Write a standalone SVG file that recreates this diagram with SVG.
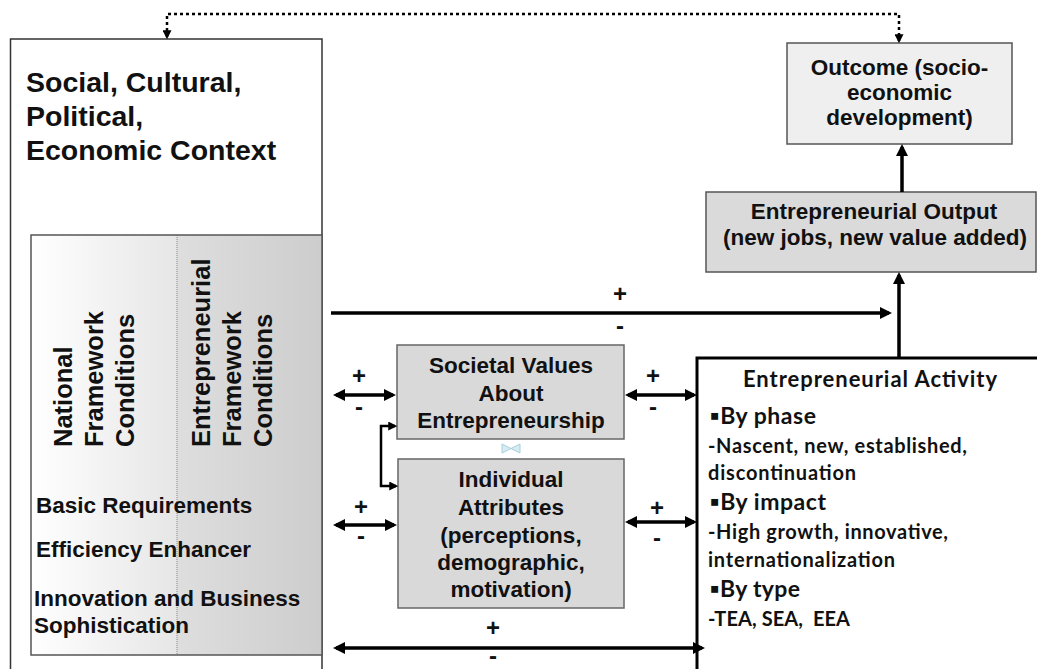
<svg xmlns="http://www.w3.org/2000/svg" width="1037" height="669" viewBox="0 0 1037 669">
<style>
.bx{font-family:"Liberation Sans",Arial,sans-serif;font-weight:bold;fill:#111;}
.ctr{text-anchor:middle;}
.pm{font-family:"Liberation Sans",Arial,sans-serif;font-weight:bold;font-size:24px;text-anchor:middle;fill:#111;}
.act{font-family:Lato,"Open Sans","DejaVu Sans",sans-serif;font-weight:bold;fill:#111;}
.ln{stroke:#000;stroke-width:3.5;fill:none;}
.thin{stroke:#000;stroke-width:2.5;fill:none;}
.dot{stroke:#000;stroke-width:2.5;fill:none;stroke-dasharray:3 3;}
</style>
<defs>
<marker id="ah" viewBox="0 0 12 12" markerWidth="12" markerHeight="12" refX="9" refY="6" orient="auto-start-reverse" markerUnits="userSpaceOnUse">
<path d="M0,0 L12,6 L0,12 z" fill="#000"/>
</marker>
<marker id="sh" viewBox="0 0 8 8" markerWidth="9" markerHeight="9" refX="6" refY="4" orient="auto-start-reverse" markerUnits="userSpaceOnUse">
<path d="M0,0 L8,4 L0,8 z" fill="#000"/>
</marker>
<linearGradient id="gl" x1="0" y1="0" x2="1" y2="0">
<stop offset="0" stop-color="#ffffff"/>
<stop offset="1" stop-color="#e6e6e6"/>
</linearGradient>
<linearGradient id="gr" x1="0" y1="0" x2="1" y2="0">
<stop offset="0" stop-color="#dedede"/>
<stop offset="1" stop-color="#cdcdcd"/>
</linearGradient>
</defs>
<rect width="1037" height="669" fill="#ffffff"/>

<g id="context">
<rect x="10.5" y="39" width="311.5" height="640" fill="#ffffff" stroke="#333" stroke-width="1.5"/>
<text class="bx" font-size="28.5" x="26" y="92">Social, Cultural,</text>
<text class="bx" font-size="28.5" x="26" y="126">Political,</text>
<text class="bx" font-size="28.5" x="26" y="160">Economic Context</text>
</g>

<g id="framework">
<rect x="31" y="235" width="146" height="420" fill="url(#gl)"/>
<rect x="177" y="235" width="145" height="420" fill="url(#gr)"/>
<line x1="177" y1="235" x2="177" y2="655" stroke="#888" stroke-width="1" stroke-dasharray="1 1"/>
<rect x="31" y="235" width="291" height="420" fill="none" stroke="#555" stroke-width="1.5"/>
<g class="bx" font-size="25.5">
<text transform="translate(72,447) rotate(-90)">National</text>
<text transform="translate(103,447) rotate(-90)">Framework</text>
<text transform="translate(134,447) rotate(-90)">Conditions</text>
<text transform="translate(210,447) rotate(-90)">Entrepreneurial</text>
<text transform="translate(241,447) rotate(-90)">Framework</text>
<text transform="translate(272,447) rotate(-90)">Conditions</text>
</g>
<text class="bx" font-size="22.5" x="36" y="513">Basic Requirements</text>
<text class="bx" font-size="22.5" x="36" y="557">Efficiency Enhancer</text>
<text class="bx" font-size="22.5" x="34" y="606">Innovation and Business</text>
<text class="bx" font-size="22.5" x="34" y="633">Sophistication</text>
</g>

<g id="outcome">
<rect x="787" y="43" width="225" height="101" fill="#efefef" stroke="#555" stroke-width="1.5"/>
<text class="bx ctr" font-size="22.5" x="899.5" y="75">Outcome (socio-</text>
<text class="bx ctr" font-size="22.5" x="899.5" y="100">economic</text>
<text class="bx ctr" font-size="22.5" x="899.5" y="125">development)</text>
</g>

<g id="output">
<rect x="706" y="192" width="330" height="80" fill="#dadada" stroke="#555" stroke-width="1.5"/>
<text class="bx ctr" font-size="22.5" x="874" y="219">Entrepreneurial Output</text>
<text class="bx ctr" font-size="22.5" x="875" y="245">(new jobs, new value added)</text>
</g>

<g id="societal">
<rect x="397" y="345" width="227" height="94" fill="#d9d9d9" stroke="#666" stroke-width="1.5"/>
<text class="bx ctr" font-size="22.5" x="511" y="373">Societal Values</text>
<text class="bx ctr" font-size="22.5" x="511" y="401">About</text>
<text class="bx ctr" font-size="22.5" x="511" y="428">Entrepreneurship</text>
</g>

<g id="individual">
<rect x="398" y="459" width="226" height="149" fill="#d9d9d9" stroke="#666" stroke-width="1.5"/>
<text class="bx ctr" font-size="22.5" x="511" y="487">Individual</text>
<text class="bx ctr" font-size="22.5" x="511" y="515">Attributes</text>
<text class="bx ctr" font-size="22.5" x="511" y="543">(perceptions,</text>
<text class="bx ctr" font-size="22.5" x="511" y="570">demographic,</text>
<text class="bx ctr" font-size="22.5" x="511" y="597">motivation)</text>
</g>

<g id="activity">
<rect x="697" y="358" width="350" height="330" fill="#ffffff" stroke="#000" stroke-width="3"/>
<text class="act" font-size="22" x="743" y="387" textLength="254">Entrepreneurial Activity</text>
<text class="act" font-size="23" x="710" y="424" textLength="106">▪By phase</text>
<text class="act" font-size="20" x="708" y="453" textLength="259">-Nascent, new, established,</text>
<text class="act" font-size="20" x="708" y="480" textLength="148">discontinuation</text>
<text class="act" font-size="23" x="710" y="510" textLength="116">▪By impact</text>
<text class="act" font-size="20" x="708" y="539" textLength="240">-High growth, innovative,</text>
<text class="act" font-size="20" x="708" y="567" textLength="187">internationalization</text>
<text class="act" font-size="23" x="710" y="597" textLength="90">▪By type</text>
<text class="act" font-size="20" x="708" y="626" textLength="142" style="white-space:pre">-TEA, SEA,  EEA</text>
</g>

<g id="icon">
<path d="M502,444 L511,448.5 L502,453 Z M520,444 L511,448.5 L520,453 Z" fill="#d4ecf2" stroke="#a9cfdc" stroke-width="1"/>
</g>

<g id="connectors">
<path class="dot" d="M167,37 V14 H899 V41" marker-start="url(#sh)" marker-end="url(#sh)"/>
<line class="ln" x1="902" y1="192" x2="902" y2="147" marker-end="url(#ah)"/>
<line class="ln" x1="899" y1="357" x2="899" y2="275" marker-end="url(#ah)"/>
<line class="ln" x1="331" y1="313" x2="889" y2="313" marker-end="url(#ah)"/>
<line class="ln" x1="336" y1="395" x2="393" y2="395" marker-start="url(#ah)" marker-end="url(#ah)"/>
<line class="ln" x1="628" y1="395" x2="694" y2="395" marker-start="url(#ah)" marker-end="url(#ah)"/>
<line class="ln" x1="336" y1="525" x2="394" y2="525" marker-start="url(#ah)" marker-end="url(#ah)"/>
<line class="ln" x1="628" y1="522" x2="694" y2="522" marker-start="url(#ah)" marker-end="url(#ah)"/>
<line class="ln" x1="336" y1="648" x2="702" y2="648" marker-start="url(#ah)" marker-end="url(#ah)"/>
<path class="thin" d="M395,426 H381 V486 H396" marker-start="url(#sh)" marker-end="url(#sh)"/>
<text class="pm" x="620" y="302">+</text>
<text class="pm" x="620" y="334">-</text>
<text class="pm" x="359" y="384">+</text>
<text class="pm" x="359" y="415">-</text>
<text class="pm" x="653" y="384">+</text>
<text class="pm" x="653" y="415">-</text>
<text class="pm" x="361" y="515">+</text>
<text class="pm" x="361" y="544">-</text>
<text class="pm" x="657" y="516">+</text>
<text class="pm" x="657" y="546">-</text>
<text class="pm" x="493" y="636">+</text>
<text class="pm" x="493" y="664">-</text>
</g>
</svg>
